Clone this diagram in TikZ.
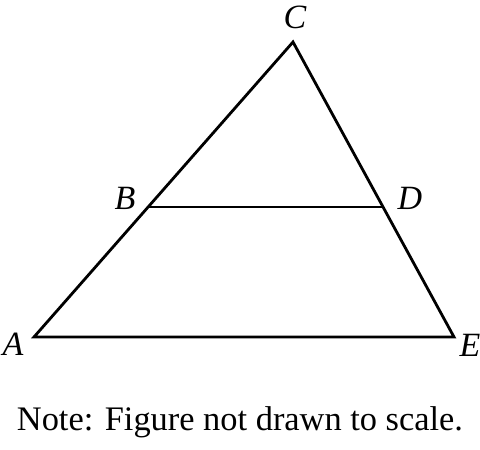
\documentclass[tikz,border=0pt]{standalone}
\usepackage{fontspec}
\setmainfont{Liberation Serif}
\usetikzlibrary{calc}

\begin{document}
\begin{tikzpicture}[x=1pt, y=-1pt, line width=2.8pt,
    vlabel/.style={font=\fontsize{34}{34}\selectfont\itshape, inner sep=0pt, anchor=base}]
    \useasboundingbox (0,0) rectangle (480,450);
    \coordinate (A) at (34,337);
    \coordinate (E) at (454,337);
    \coordinate (C) at (293,42);
    \coordinate (B) at ($(A)!0.4407!(C)$);
    \coordinate (D) at ($(E)!0.4407!(C)$);
%
    \draw (A) -- (E) -- (C) -- cycle;
    \draw (B) -- (D);
%
    \node[vlabel] (lA) at (13,355) {A};
    \node[vlabel] (lB) at (125,209) {B};
    \node[vlabel] (lC) at (295,28) {C};
    \node[vlabel] (lD) at (410,209) {D};
    \node[vlabel] (lE) at (470,356) {E};
%
    \node[font=\fontsize{34.4}{34.4}\selectfont, inner sep=0pt, anchor=base] (note) at (240,430) {Note: Figure not drawn to scale.};
\end{tikzpicture}
\end{document}
